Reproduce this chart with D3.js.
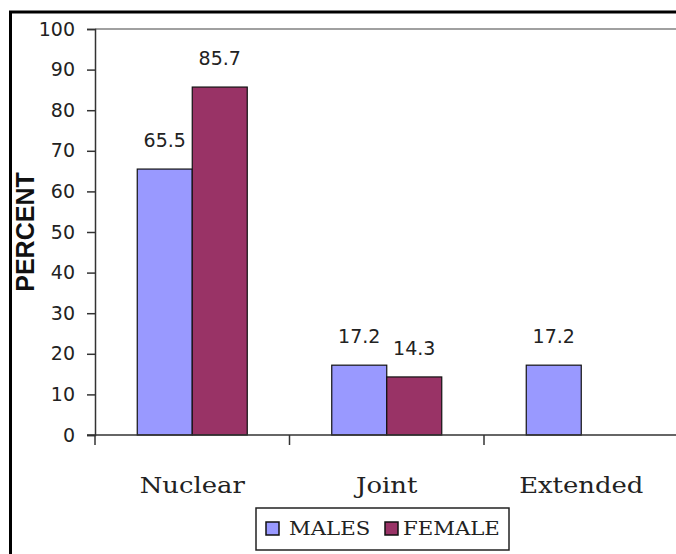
<!DOCTYPE html>
<html><head><meta charset="utf-8">
<script src="https://cdn.jsdelivr.net/npm/d3@7"></script>
<style>html,body{margin:0;padding:0;background:#fff;overflow:hidden}</style>
</head><body>
<script>
const categories = ["Nuclear", "Joint", "Extended"];
const seriesNames = ["MALES", "FEMALE"];
const males = [65.5, 17.2, 17.2];
const female = [85.7, 14.3, null];
const yTicks = [0, 10, 20, 30, 40, 50, 60, 70, 80, 90, 100];
const colors = ["#9999FF", "#993366"];

(function () {
const W = 676, H = 554;
const svg = d3.select("body").append("svg").attr("width", W).attr("height", H);

// outer chart border
svg.append("rect").attr("x", 10.5).attr("y", 12).attr("width", 700).attr("height", 600)
  .attr("fill", "none").attr("stroke", "#000").attr("stroke-width", 3);

const pl = 95, pt = 29, pb = 435, band = 194.5;
const x = d3.scaleBand().domain(categories).range([pl, pl + band * 3]).paddingInner(0).paddingOuter(0);
const x1 = d3.scaleBand().domain(seriesNames).range([0, 110]);
const y = d3.scaleLinear().domain([0, 100]).range([pb, pt]);

// plot top border (gray)
svg.append("line").attr("x1", pl).attr("x2", W).attr("y1", pt).attr("y2", pt)
  .attr("stroke", "#a0a0a0").attr("stroke-width", 2);

const data = categories.map((c, i) => ({cat: c, vals: [males[i], female[i]]}));
const g = svg.append("g");
data.forEach(d => {
  d.vals.forEach((v, j) => {
    if (v == null) return;
    const bx = x(d.cat) + (band - 110) / 2 + x1(seriesNames[j]);
    g.append("rect").attr("x", bx).attr("y", y(v)).attr("width", x1.bandwidth()).attr("height", pb - y(v))
      .attr("fill", colors[j]).attr("stroke", "#111").attr("stroke-width", 1.2);
    g.append("text").attr("x", bx + x1.bandwidth() / 2).attr("y", y(v) - 22)
      .attr("text-anchor", "middle").attr("font-family", "DejaVu Sans").attr("font-size", 19)
      .attr("fill", "#222").text(v.toFixed(1));
  });
});

// y axis
const yAxis = d3.axisLeft(y).tickValues(yTicks).tickSize(8).tickPadding(12);
const ya = svg.append("g").attr("transform", `translate(${pl},0)`).call(yAxis);
ya.select(".domain").attr("stroke", "#333").attr("stroke-width", 1.5);
ya.selectAll(".tick line").attr("stroke", "#333").attr("stroke-width", 1.5);
ya.selectAll(".tick text").attr("font-family", "DejaVu Sans").attr("font-size", 19).attr("fill", "#222");

// x axis
const xa = svg.append("g").attr("transform", `translate(0,${pb})`);
xa.append("line").attr("x1", pl - 8).attr("x2", W).attr("y1", 0).attr("y2", 0)
  .attr("stroke", "#333").attr("stroke-width", 1.5);
categories.forEach(c => {
  xa.append("line").attr("x1", x(c)).attr("x2", x(c)).attr("y1", 0).attr("y2", 10)
    .attr("stroke", "#333").attr("stroke-width", 1.5);
  xa.append("text").attr("transform", `translate(${x(c) + band / 2},${58}) scale(1.15,1)`)
    .attr("text-anchor", "middle")
    .attr("font-family", "DejaVu Serif").attr("font-size", 22.5).attr("fill", "#222").text(c);
});

// y title
svg.append("text").attr("transform", `translate(34,${(pt + pb) / 2}) rotate(-90)`)
  .attr("text-anchor", "middle").attr("font-family", "Liberation Sans").attr("font-weight", "bold")
  .attr("font-size", 25).attr("fill", "#111").text("PERCENT");

// legend
const lg = svg.append("g").attr("transform", "translate(256,508)");
lg.append("rect").attr("width", 253).attr("height", 42).attr("fill", "#fff").attr("stroke", "#222").attr("stroke-width", 1.5);
const swX = [10, 129], txX = [33, 147];
seriesNames.forEach((s, j) => {
  lg.append("rect").attr("x", swX[j]).attr("y", 14).attr("width", 13).attr("height", 13)
    .attr("fill", colors[j]).attr("stroke", "#111").attr("stroke-width", 1.5);
  lg.append("text").attr("transform", `translate(${txX[j]},27) scale(1.18,1)`)
    .attr("font-family", "DejaVu Serif")
    .attr("font-size", 18).attr("fill", "#222").text(s);
});
})();
</script>
</body></html>
